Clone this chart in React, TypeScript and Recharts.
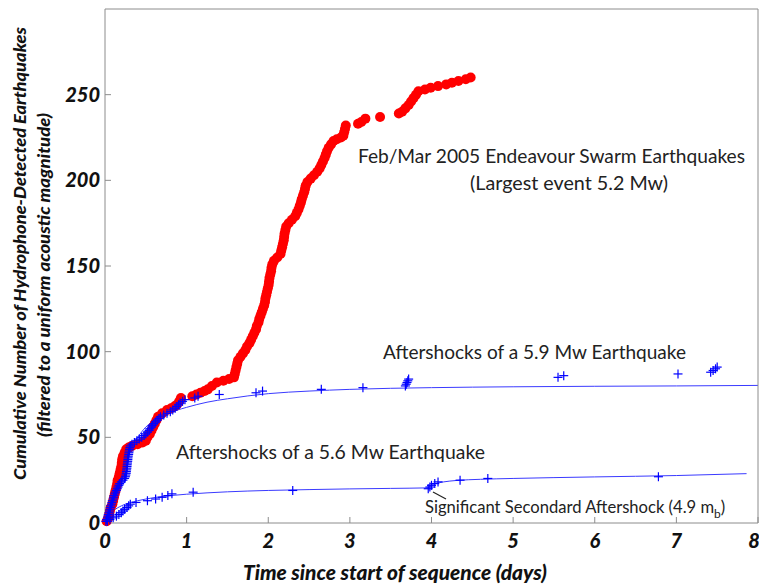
import { ComposedChart, Scatter, Line, XAxis, YAxis } from 'recharts';

// Endeavour swarm, cumulative count vs days
const swarmDays = [
  0.02, 0.04, 0.05, 0.06, 0.07, 0.09, 0.1, 0.11, 0.12, 0.13, 0.14, 0.15, 0.155, 0.17, 0.18, 0.19, 0.2, 0.205, 0.21,
  0.22, 0.24, 0.26, 0.29, 0.33, 0.4, 0.46, 0.5, 0.52, 0.55, 0.57, 0.59, 0.61, 0.63, 0.65, 0.7, 0.76, 0.81, 0.85, 0.88,
  0.91, 0.93, 1.07, 1.12, 1.17, 1.22, 1.26, 1.31, 1.37, 1.45, 1.52, 1.58, 1.59, 1.6, 1.61, 1.62, 1.63, 1.66, 1.69,
  1.72, 1.74, 1.77, 1.79, 1.81, 1.83, 1.85, 1.86, 1.88, 1.89, 1.905, 1.92, 1.935, 1.95, 1.96, 1.965, 1.975, 1.985,
  1.995, 2.005, 2.01, 2.015, 2.025, 2.035, 2.04, 2.05, 2.07, 2.11, 2.15, 2.16, 2.17, 2.18, 2.19, 2.195, 2.2, 2.21,
  2.22, 2.25, 2.29, 2.33, 2.35, 2.37, 2.385, 2.4, 2.41, 2.425, 2.44, 2.45, 2.46, 2.48, 2.52, 2.56, 2.6, 2.63, 2.65,
  2.67, 2.69, 2.705, 2.72, 2.74, 2.77, 2.8, 2.84, 2.89, 2.92, 2.93, 2.94, 2.95, 3.1, 3.14, 3.19, 3.37, 3.6, 3.64,
  3.68, 3.72, 3.75, 3.78, 3.81, 3.84, 3.92, 3.99, 4.08, 4.18, 4.25, 4.33, 4.42, 4.48,
];
const swarmCount = [
  1, 3, 5, 7, 9, 11, 13, 15, 17, 19, 21, 23, 25, 27, 29, 31, 33, 35, 37,
  39, 41, 43, 44, 45, 46, 47, 48, 50, 52, 54, 56, 58, 60, 62, 64, 66, 67, 68, 69,
  71, 73, 74, 75, 76, 77, 78, 80, 82, 83, 84, 85, 87, 89, 91, 93, 95, 97, 99,
  101, 103, 105, 107, 109, 111, 113, 115, 117, 119, 121, 123, 125, 127, 129, 131, 133, 135,
  137, 139, 141, 143, 145, 147, 149, 151, 153, 155, 157, 159, 161, 163, 165, 167, 169, 171,
  173, 175, 177, 179, 181, 183, 185, 187, 189, 191, 193, 195, 197, 199, 201, 203, 205, 207, 209,
  211, 213, 215, 217, 219, 221, 223, 224, 225, 226, 228, 230, 232, 233, 234, 236, 237, 239, 240,
  242, 244, 246, 248, 250, 252, 253, 254, 255, 256, 257, 258, 259, 260,
];

// aftershocks of the 5.9 Mw event
const as59Days = [
  0.01, 0.02, 0.03, 0.035, 0.04, 0.05, 0.055, 0.06, 0.065, 0.07, 0.08, 0.085, 0.09, 0.1, 0.105, 0.11, 0.12, 0.13,
  0.14, 0.15, 0.16, 0.17, 0.18, 0.2, 0.22, 0.24, 0.25, 0.255, 0.26, 0.262, 0.265, 0.268, 0.27, 0.272, 0.275, 0.278,
  0.28, 0.282, 0.285, 0.29, 0.293, 0.296, 0.3, 0.305, 0.31, 0.33, 0.36, 0.39, 0.42, 0.45, 0.48, 0.5, 0.52, 0.54,
  0.55, 0.57, 0.58, 0.6, 0.62, 0.64, 0.66, 0.68, 0.72, 0.76, 0.8, 0.83, 0.86, 0.88, 0.9, 0.92, 0.95, 0.98, 1.1,
  1.14, 1.4, 1.85, 1.93, 2.65, 3.16, 3.68, 3.69, 3.7, 3.71, 3.72, 5.55, 5.62, 7.02, 7.42, 7.45, 7.48, 7.5,
];
const as59FitDays = [0, 0.02, 0.05, 0.1, 0.2, 0.3, 0.4, 0.5, 0.6, 0.75, 1, 1.25, 1.5, 2, 2.5, 3, 4, 5, 6, 7, 8];
const as59Fit = [0, 5, 12, 21, 34, 43, 50, 56, 59.5, 63.5, 67.5, 70.5, 72.5, 75.5, 77, 78, 79, 79.5, 79.8, 80, 80.3];

// aftershocks of the 5.6 Mw event
const as56Days = [
  0.03, 0.06, 0.1, 0.14, 0.17, 0.2, 0.22, 0.24, 0.27, 0.29, 0.31, 0.38, 0.52, 0.62, 0.7, 0.77, 0.82, 1.08, 2.3,
  3.96, 3.98, 4.0, 4.04, 4.08, 4.35, 4.69, 6.78,
];
const as56FitDays = [0, 0.02, 0.05, 0.1, 0.2, 0.3, 0.4, 0.6, 0.8, 1, 1.5, 2, 2.5, 3, 3.5, 3.95, 4.0, 4.05, 4.15, 4.3, 4.6, 5, 6, 7, 7.86];
const as56Fit = [0, 2, 4.5, 7, 10, 11.8, 13, 14.8, 16, 16.8, 18.2, 19, 19.5, 19.9, 20.2, 20.5, 22, 23, 24, 24.8, 25.5, 26, 26.9, 27.7, 28.8];

const xTicks = [0, 1, 2, 3, 4, 5, 6, 7, 8];
const yTicks = [0, 50, 100, 150, 200, 250];

const swarm = swarmDays.map((t, i) => ({ t, n: swarmCount[i] }));
const as59 = as59Days.map((t, i) => ({ t, n: i + 1 }));
const as56 = as56Days.map((t, i) => ({ t, n: i + 1 }));
const fit59 = as59FitDays.map((t, i) => ({ t, n: as59Fit[i] }));
const fit56 = as56FitDays.map((t, i) => ({ t, n: as56Fit[i] }));

const FONT = 'Lato, "Open Sans", sans-serif';
const AXIS = '#8c8c8c';
const BLUE = '#0000ff';

const Dot = (p: any) => <circle cx={p.cx} cy={p.cy} r={5} fill="#ff0000" />;
const Plus = (p: any) => (
  <g stroke={BLUE} strokeWidth={1.2}>
    <line x1={p.cx - 4.5} x2={p.cx + 4.5} y1={p.cy} y2={p.cy} />
    <line x1={p.cx} x2={p.cx} y1={p.cy - 4.5} y2={p.cy + 4.5} />
  </g>
);

const tickStyle = { fontFamily: FONT, fontSize: 20, fontWeight: 900, fontStyle: 'italic', fill: '#111' };

export default function App() {
  return (
    <div style={{ position: 'absolute', left: 0, top: 0, width: 759, height: 585, background: '#fff' }}>
      <ComposedChart width={759} height={585} margin={{ top: 8, right: 0, bottom: 0, left: 0 }}>
        <XAxis xAxisId="b" type="number" dataKey="t" domain={[0, 8]} ticks={xTicks} height={62}
          stroke={AXIS} tickSize={-6} tickMargin={17} tick={tickStyle} />
        <XAxis xAxisId="t" orientation="top" type="number" dataKey="t" domain={[0, 8]} ticks={xTicks} height={1}
          stroke={AXIS} tickSize={-6} tick={false} />
        <YAxis yAxisId="l" type="number" dataKey="n" domain={[0, 300]} ticks={yTicks} width={105}
          stroke={AXIS} tickSize={-6} tickMargin={11} tick={tickStyle} />
        <YAxis yAxisId="r" orientation="right" type="number" dataKey="n" domain={[0, 300]} ticks={yTicks} width={1}
          stroke={AXIS} tickSize={-6} tick={false} />
        <Scatter xAxisId="b" yAxisId="l" data={swarm} dataKey="n" shape={Dot} isAnimationActive={false} />
        <Line xAxisId="b" yAxisId="l" data={fit59} dataKey="n" type="monotone" dot={false} stroke="#3a3aff"
          strokeWidth={1} isAnimationActive={false} />
        <Line xAxisId="b" yAxisId="l" data={fit56} dataKey="n" type="monotone" dot={false} stroke="#3a3aff"
          strokeWidth={1} isAnimationActive={false} />
        <Scatter xAxisId="b" yAxisId="l" data={as59} dataKey="n" shape={Plus} isAnimationActive={false} />
        <Scatter xAxisId="b" yAxisId="l" data={as56} dataKey="n" shape={Plus} isAnimationActive={false} />
      </ComposedChart>
      <svg width={759} height={585} style={{ position: 'absolute', left: 0, top: 0, pointerEvents: 'none' }}
        fontFamily={FONT} fill="#222">
        <text x={358} y={163} fontSize={19} textLength={387} lengthAdjust="spacingAndGlyphs">Feb/Mar 2005 Endeavour Swarm Earthquakes</text>
        <text x={470} y={190} fontSize={19} textLength={198} lengthAdjust="spacingAndGlyphs">(Largest event 5.2 Mw)</text>
        <text x={383} y={359} fontSize={19} textLength={303} lengthAdjust="spacingAndGlyphs">Aftershocks of a 5.9 Mw Earthquake</text>
        <text x={176} y={459} fontSize={19} textLength={309} lengthAdjust="spacingAndGlyphs">Aftershocks of a 5.6 Mw Earthquake</text>
        <text x={425} y={513} fontSize={16.6}>
          Significant Secondard Aftershock (4.9 m<tspan dy={5} fontSize={12}>b</tspan><tspan dy={-5}>)</tspan>
        </text>
        <line x1={433} y1={492} x2={446} y2={499} stroke="#222" strokeWidth={1.2} />
        <text x={243} y={580} fontSize={20} fontWeight={900} fontStyle="italic" fill="#111"
          textLength={304} lengthAdjust="spacingAndGlyphs">Time since start of sequence (days)</text>
        <text transform="translate(26,480) rotate(-90)" fontSize={17} fontWeight={900} fontStyle="italic" fill="#111"
          textLength={453} lengthAdjust="spacingAndGlyphs">Cumulative Number of Hydrophone-Detected Earthquakes</text>
        <text transform="translate(50,437) rotate(-90)" fontSize={16} fontWeight={900} fontStyle="italic" fill="#111"
          textLength={324} lengthAdjust="spacingAndGlyphs">(filtered to a uniform acoustic magnitude)</text>
      </svg>
    </div>
  );
}
